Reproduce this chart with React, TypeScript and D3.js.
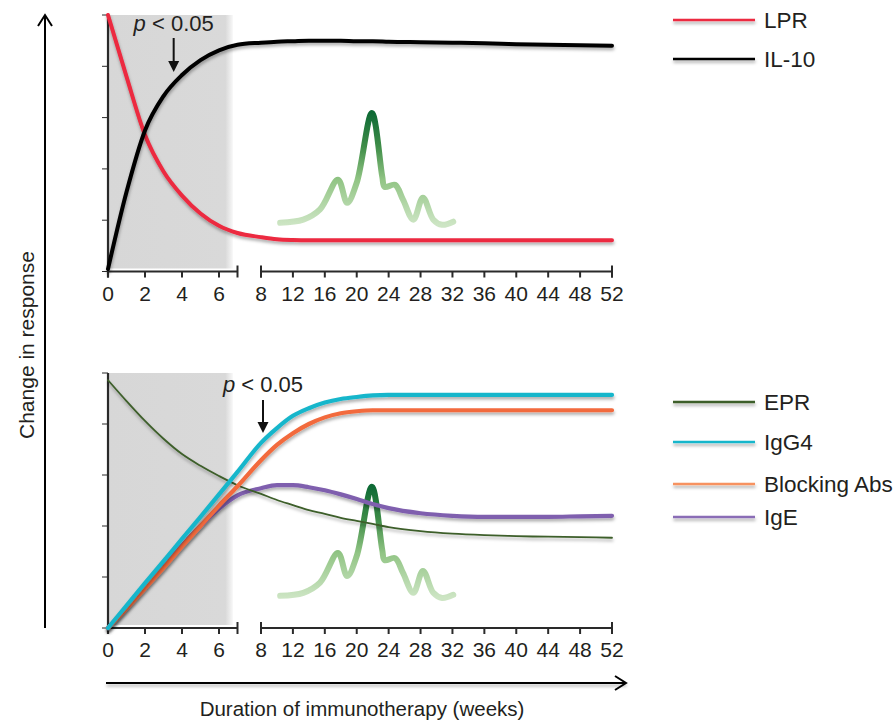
import React from "react";
import * as d3 from "d3";

// ---- data ----
const weeks = [0, 1, 2, 3, 4, 5, 6, 7, 8, 10, 12, 14, 16, 18, 20, 22, 24, 28, 32, 36, 40, 44, 48, 52];
const lpr = [5.0, 3.8, 2.66, 1.95, 1.48, 1.13, 0.89, 0.75, 0.67, 0.63, 0.615, 0.61, 0.61, 0.61, 0.61, 0.61, 0.61, 0.61, 0.61, 0.61, 0.61, 0.61, 0.61, 0.61];
const il10 = [0.05, 1.55, 2.75, 3.42, 3.83, 4.12, 4.31, 4.42, 4.46, 4.48, 4.49, 4.5, 4.5, 4.5, 4.49, 4.49, 4.48, 4.47, 4.46, 4.45, 4.43, 4.42, 4.41, 4.4];
const epr = [4.86, 4.45, 4.06, 3.71, 3.41, 3.18, 2.98, 2.8, 2.63, 2.51, 2.41, 2.31, 2.24, 2.16, 2.1, 2.04, 1.98, 1.9, 1.85, 1.82, 1.8, 1.79, 1.78, 1.77];
const igg4 = [0, 0.44, 0.88, 1.31, 1.75, 2.18, 2.62, 3.06, 3.63, 3.92, 4.16, 4.31, 4.42, 4.49, 4.53, 4.56, 4.57, 4.57, 4.57, 4.57, 4.57, 4.57, 4.57, 4.57];
const blockingAbs = [0, 0.38, 0.78, 1.18, 1.6, 2.0, 2.4, 2.78, 3.29, 3.59, 3.82, 4.0, 4.13, 4.21, 4.25, 4.27, 4.27, 4.27, 4.27, 4.27, 4.27, 4.27, 4.27, 4.27];
const ige = [0, 0.4, 0.8, 1.2, 1.62, 2.0, 2.34, 2.6, 2.74, 2.8, 2.8, 2.76, 2.7, 2.62, 2.53, 2.43, 2.35, 2.25, 2.2, 2.18, 2.18, 2.18, 2.19, 2.2];

const pollenWeeks = [10.4, 13.3, 15.4, 17.65, 18.8, 20.0, 21.9, 23.2, 23.5, 24.8, 25.8, 27.1, 28.3, 29.6, 30.7, 32.1];
const pollenValues = [0.95, 1.01, 1.21, 1.79, 1.34, 1.73, 3.09, 1.85, 1.65, 1.69, 1.4, 1.01, 1.44, 1.01, 0.91, 0.97];

const xTicksA = [0, 2, 4, 6];
const xTicksB = [8, 12, 16, 20, 24, 28, 32, 36, 40, 44, 48, 52];
const yTicks = [0, 1, 2, 3, 4, 5];
const shadedWeeks = [0, 6.75];
const pArrowWeekTop = 3.55;
const pArrowWeekBottom = 8.25;

const topSeries = [
  { name: "LPR", values: lpr, color: "#ec2a40", width: 4, legendColor: "#ec2a40" },
  { name: "IL-10", values: il10, color: "#000000", width: 4, legendColor: "#000000" },
];
const bottomSeries = [
  { name: "EPR", values: epr, color: "#3d5e2a", width: 1.8, legendColor: "#3d5e2a" },
  { name: "IgG4", values: igg4, color: "#19b6cb", width: 4.2, legendColor: "#19b6cb" },
  { name: "Blocking Abs", values: blockingAbs, color: "#f26a3c", width: 4.2, legendColor: "#f79260" },
  { name: "IgE", values: ige, color: "#7f5fae", width: 4.2, legendColor: "#8a6db6" },
];
const bottomDrawOrder = ["IgE", "EPR", "Blocking Abs", "IgG4"];

const FONT = "'Liberation Sans', Arial, Helvetica, sans-serif";
const TXT = "#231f20";
const AX = "#2a2a2a";

const x = d3.scaleLinear().domain([0, 7, 8, 52]).range([108, 237.5, 261, 612]);

function Panel({ y, series, order, legendYs, pollenShift, pWeek, pTextY, pArrowTop, pArrowTip }) {
  const line = d3
    .line<number>()
    .x((_, i) => x(weeks[i]))
    .y((v) => y(v))
    .curve(d3.curveMonotoneX);
  const pollenLine = d3
    .line<number>()
    .x((_, i) => x(pollenWeeks[i]))
    .y((v) => y(v + pollenShift))
    .curve(d3.curveCatmullRom.alpha(0.5));
  const y0 = y(0);
  const yTop = y(5);
  const drawn = order.map((n) => series.find((s) => s.name === n));
  return (
    <g>
      <rect
        x={x(shadedWeeks[0])}
        y={yTop}
        width={x(shadedWeeks[1]) - x(shadedWeeks[0])}
        height={y0 - yTop - 3}
        fill="url(#grayGrad)"
      />
      {/* y axis */}
      <line x1={x(0)} x2={x(0)} y1={yTop} y2={y0 + 6} stroke={AX} strokeWidth={2.2} />
      {yTicks.map((t) => (
        <line key={t} x1={x(0) - 6} x2={x(0)} y1={y(t)} y2={y(t)} stroke={AX} strokeWidth={1} />
      ))}
      {/* x axis segment A */}
      <line x1={x(0)} x2={x(7)} y1={y0} y2={y0} stroke={AX} strokeWidth={2} />
      <line x1={x(7)} x2={x(7)} y1={y0 - 6} y2={y0 + 6} stroke={AX} strokeWidth={2} />
      {xTicksA.map((t) => (
        <g key={t}>
          <line x1={x(t)} x2={x(t)} y1={y0} y2={y0 + 6} stroke={AX} strokeWidth={2} />
          <text x={x(t)} y={y0 + 29} textAnchor="middle" fontSize={21} fontFamily={FONT} fill={TXT}>
            {t}
          </text>
        </g>
      ))}
      {/* x axis segment B */}
      <line x1={x(8)} x2={x(52)} y1={y0} y2={y0} stroke={AX} strokeWidth={2} />
      <line x1={x(8)} x2={x(8)} y1={y0 - 6} y2={y0 + 6} stroke={AX} strokeWidth={2} />
      <line x1={x(52)} x2={x(52)} y1={y0 - 6} y2={y0 + 6} stroke={AX} strokeWidth={2} />
      {xTicksB.map((t) => (
        <g key={t}>
          <line x1={x(t)} x2={x(t)} y1={y0} y2={y0 + 6} stroke={AX} strokeWidth={2} />
          <text x={x(t)} y={y0 + 29} textAnchor="middle" fontSize={21} fontFamily={FONT} fill={TXT}>
            {t}
          </text>
        </g>
      ))}
      {/* pollen season */}
      <path
        d={pollenLine(pollenValues) || ""}
        fill="none"
        stroke="url(#pollenGrad)"
        strokeWidth={6}
        strokeLinecap="round"
        strokeLinejoin="round"
      />
      {/* series */}
      {drawn.map((s) => (
        <path
          key={s.name}
          d={line(s.values) || ""}
          fill="none"
          stroke={s.color}
          strokeWidth={s.width}
          strokeLinecap="round"
          filter="url(#shadow)"
        />
      ))}
      {/* p < 0.05 */}
      <text x={x(pWeek)} y={pTextY} textAnchor="middle" fontSize={22} fontFamily={FONT} fill={TXT}>
        <tspan fontStyle="italic">p</tspan>
        {" < 0.05"}
      </text>
      <line x1={x(pWeek)} x2={x(pWeek)} y1={pArrowTop} y2={pArrowTip - 8} stroke="#111" strokeWidth={2} />
      <path
        d={`M${x(pWeek) - 5.5},${pArrowTip - 11} L${x(pWeek) + 5.5},${pArrowTip - 11} L${x(pWeek)},${pArrowTip} Z`}
        fill="#111"
      />
      {/* legend */}
      {series.map((s, i) => (
        <g key={s.name}>
          <line
            x1={673}
            x2={755}
            y1={legendYs[i]}
            y2={legendYs[i]}
            stroke={s.legendColor}
            strokeWidth={2.4}
            filter="url(#shadow)"
          />
          <text x={764} y={legendYs[i] + 8} fontSize={22.5} fontFamily={FONT} fill={TXT}>
            {s.name}
          </text>
        </g>
      ))}
    </g>
  );
}

export default function App() {
  const yTopPanel = d3.scaleLinear().domain([0, 5]).range([271.5, 15]);
  const yBottomPanel = d3.scaleLinear().domain([0, 5]).range([628, 373]);
  return (
    <svg width={895} height={728} style={{ position: "absolute", left: 0, top: 0, background: "#fff" }}>
      <defs>
        <filter id="shadow" filterUnits="userSpaceOnUse" x={0} y={0} width={895} height={728}>
          <feDropShadow dx={0.5} dy={2.5} stdDeviation={1.4} floodColor="#000" floodOpacity={0.32} />
        </filter>
        <linearGradient id="grayGrad" x1="0" x2="1" y1="0" y2="0">
          <stop offset="0" stopColor="#d7d7d7" />
          <stop offset="0.94" stopColor="#d9d9d9" />
          <stop offset="1" stopColor="#d9d9d9" stopOpacity={0.2} />
        </linearGradient>
        <linearGradient id="pollenGrad" x1="0" x2="0" y1="0" y2="1">
          <stop offset="0" stopColor="#0e6a35" />
          <stop offset="0.3" stopColor="#3f8d48" />
          <stop offset="0.6" stopColor="#92c585" />
          <stop offset="1" stopColor="#cde5c4" />
        </linearGradient>
      </defs>

      <Panel
        y={yTopPanel}
        series={topSeries}
        order={["LPR", "IL-10"]}
        legendYs={[20, 59]}
        pollenShift={0}
        pWeek={pArrowWeekTop}
        pTextY={31}
        pArrowTop={38}
        pArrowTip={72}
      />
      <Panel
        y={yBottomPanel}
        series={bottomSeries}
        order={bottomDrawOrder}
        legendYs={[402, 442, 484, 517]}
        pollenShift={-0.32}
        pWeek={pArrowWeekBottom}
        pTextY={392}
        pArrowTop={400}
        pArrowTip={433}
      />

      {/* global axes arrows */}
      <line x1={45} x2={45} y1={16} y2={628} stroke="#000" strokeWidth={2} />
      <path d="M38,26 L45,15 L52,26" fill="none" stroke="#000" strokeWidth={2} />
      <text
        transform="translate(34,345) rotate(-90)"
        textAnchor="middle"
        fontSize={21}
        fontFamily={FONT}
        fill={TXT}
      >
        Change in response
      </text>
      <line x1={106} x2={626} y1={683} y2={683} stroke="#000" strokeWidth={2} filter="url(#shadow)" />
      <path d="M615,676 L626,683 L615,690" fill="none" stroke="#000" strokeWidth={2} />
      <text x={362} y={716} textAnchor="middle" fontSize={20.5} fontFamily={FONT} fill={TXT}>
        Duration of immunotherapy (weeks)
      </text>
    </svg>
  );
}
